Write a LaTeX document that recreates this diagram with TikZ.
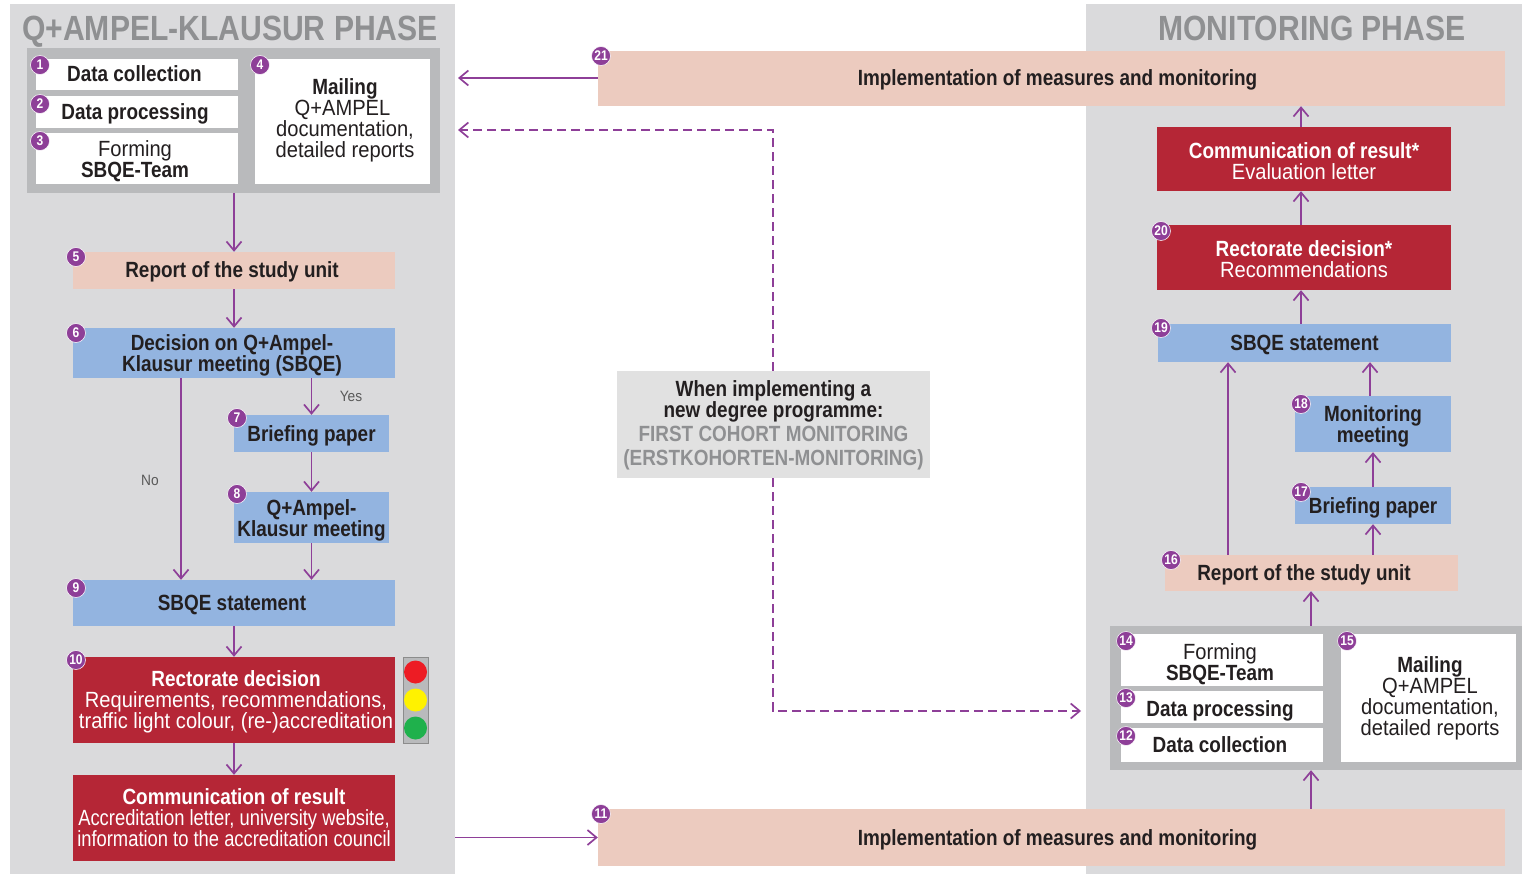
\documentclass[tikz,border=0pt]{standalone}
\usepackage{fontspec}
\setmainfont{Liberation Sans}[UprightFeatures={FakeStretch=0.915},BoldFeatures={FakeStretch=0.86}]
\newfontfamily\tightface[FakeStretch=0.835]{Liberation Sans}
\usetikzlibrary{arrows.meta}

\definecolor{panelgray}{HTML}{DADADC}
\definecolor{groupgray}{HTML}{B9BABC}
\definecolor{centergray}{HTML}{E1E1E1}
\definecolor{titlegray}{HTML}{8F9092}
\definecolor{peach}{HTML}{ECCBBF}
\definecolor{sky}{HTML}{93B4E0}
\definecolor{wine}{HTML}{B52636}
\definecolor{violet}{HTML}{8E3F98}
\definecolor{inkdark}{HTML}{231F20}
\definecolor{lampred}{HTML}{ED1C24}
\definecolor{lampyellow}{HTML}{FFF200}
\definecolor{lampgreen}{HTML}{1FB14C}

\tikzset{
  card/.style={inner sep=0pt,align=center,text=inkdark,font=\fontsize{22}{21}\selectfont},
  oneline/.style={text height=16pt,text depth=1pt},
  baseat/.style={text height=#1,text depth=0pt},
  whitecard/.style={card,fill=white},
  peachcard/.style={card,fill=peach},
  skycard/.style={card,fill=sky},
  winecard/.style={card,fill=wine,text=white},
  badge/.style={circle,fill=violet,draw=white,line width=0.5pt,inner sep=0pt,minimum size=19pt,text=white,font=\fontsize{14}{14}\selectfont\bfseries},
  flow/.style={draw=violet,line width=1.7pt,-{Straight Barb[length=9pt,width=15pt,line width=1.7pt]}},
  dashflow/.style={flow,dash pattern=on 9pt off 5pt},
  phasetitle/.style={text=titlegray,inner sep=0pt,text height=25pt,text depth=0pt,font=\fontsize{35}{35}\selectfont\bfseries},
  smalltag/.style={text=black!65,inner sep=0pt,font=\fontsize{15}{15}\selectfont}
}

\begin{document}
\begin{tikzpicture}[x=1pt,y=-1pt]
\useasboundingbox (0,0) rectangle (1522,874);

% Panels
\node[fill=panelgray,inner sep=0pt,minimum width=445pt,minimum height=870pt] (panelL) at (232.5,439) {};
\node[fill=panelgray,inner sep=0pt,minimum width=436pt,minimum height=870pt] (panelR) at (1304,439) {};
\node[phasetitle] (titleL) at (230,28) {Q+AMPEL-KLAUSUR PHASE};
\node[phasetitle] (titleR) at (1312,28) {MONITORING PHASE};

% Left group
\node[fill=groupgray,inner sep=0pt,minimum width=413pt,minimum height=145pt] (groupL) at (233.5,120.5) {};
\node[whitecard,oneline,minimum width=202pt,minimum height=31pt] (collectL) at (137,74.5) {\textbf{Data collection}\hspace*{5pt}};
\node[whitecard,oneline,minimum width=202pt,minimum height=32pt] (processL) at (137,112) {\textbf{Data processing}\hspace*{4pt}};
\node[whitecard,baseat=39pt,minimum width=202pt,minimum height=51pt] (formL) at (137,158.5) {Forming\hspace*{4pt}\\\textbf{SBQE-Team}\hspace*{4pt}};
\node[whitecard,baseat=73pt,minimum width=175pt,minimum height=125pt] (mailL) at (342.5,121.5) {\hspace*{5pt}\textbf{Mailing}\\Q+AMPEL\\\hspace*{5pt}documentation,\\\hspace*{5pt}detailed reports};

% Left column
\node[peachcard,oneline,minimum width=322pt,minimum height=37pt] (reportL) at (234,270.5) {\textbf{Report of the study unit}\hspace*{4pt}};
\node[skycard,baseat=36pt,minimum width=322pt,minimum height=50pt] (decision) at (234,353) {\textbf{Decision on Q+Ampel-}\hspace*{4pt}\\\textbf{Klausur meeting (SBQE)}\hspace*{4pt}};
\node[skycard,oneline,minimum width=155pt,minimum height=37pt] (briefingL) at (311.5,433.5) {\textbf{Briefing paper}};
\node[skycard,baseat=37pt,minimum width=155pt,minimum height=51pt] (meetingL) at (311.5,517.5) {\textbf{Q+Ampel-}\\\textbf{Klausur meeting}};
\node[skycard,oneline,minimum width=322pt,minimum height=46pt] (statementL) at (234,603) {\textbf{SBQE statement}\hspace*{4pt}};
\node[winecard,baseat=56pt,minimum width=322pt,minimum height=86pt] (rectorL) at (234,700) {\hspace*{4pt}\textbf{Rectorate decision}\\\hspace*{4pt}Requirements, recommendations,\\\hspace*{4pt}traffic light colour, (re-)accreditation};
\node[winecard,baseat=56pt,minimum width=322pt,minimum height=86pt] (commL) at (234,818) {\textbf{Communication of result}\\{\tightface Accreditation letter, university website,}\\{\tightface information to the accreditation council}};
\node[smalltag] (yestag) at (351,396) {Yes};
\node[smalltag] (notag) at (150,480) {No};

% Traffic light
\node[fill=groupgray,draw=black!45,line width=0.5pt,inner sep=0pt,minimum width=25pt,minimum height=86pt] (lights) at (415.5,700) {};
\fill[lampred] (415.5,672) circle(11.5pt);
\fill[lampyellow] (415.5,700) circle(11.5pt);
\fill[lampgreen] (415.5,728) circle(11.5pt);

% Middle
\node[peachcard,oneline,minimum width=907pt,minimum height=55pt] (implTop) at (1051.5,78.5) {\hspace*{12pt}\textbf{Implementation of measures and monitoring}};
\node[peachcard,oneline,minimum width=907pt,minimum height=57pt] (implBottom) at (1051.5,837.5) {\hspace*{12pt}\textbf{Implementation of measures and monitoring}};
\node[card,fill=centergray,baseat=81pt,minimum width=313pt,minimum height=107pt] (firstcohort) at (773.5,424.5) {\textbf{When implementing a}\\\textbf{new degree programme:}\\[3pt]\textcolor{titlegray}{\textbf{FIRST COHORT MONITORING}}\\[3pt]\textcolor{titlegray}{\textbf{(ERSTKOHORTEN-MONITORING)}}};

% Right column
\node[winecard,baseat=42pt,minimum width=294pt,minimum height=64pt] (commR) at (1304,159) {\textbf{Communication of result*}\\Evaluation letter};
\node[winecard,baseat=41pt,minimum width=294pt,minimum height=65pt] (rectorR) at (1304,257.5) {\textbf{Rectorate decision*}\\Recommendations};
\node[skycard,oneline,minimum width=293pt,minimum height=38pt] (statementR) at (1304.5,343) {\textbf{SBQE statement}};
\node[skycard,baseat=36pt,minimum width=156pt,minimum height=56pt] (meetingR) at (1373,424) {\textbf{Monitoring}\\\textbf{meeting}};
\node[skycard,oneline,minimum width=156pt,minimum height=37pt] (briefingR) at (1373,505.5) {\textbf{Briefing paper}};
\node[peachcard,oneline,minimum width=293pt,minimum height=36pt] (reportR) at (1311.5,573) {\textbf{Report of the study unit}\hspace*{15pt}};

% Right group
\node[fill=groupgray,inner sep=0pt,minimum width=412pt,minimum height=144pt] (groupR) at (1316,698) {};
\node[whitecard,baseat=40pt,minimum width=202pt,minimum height=52pt] (formR) at (1222,660) {Forming\hspace*{4pt}\\\textbf{SBQE-Team}\hspace*{4pt}};
\node[whitecard,oneline,text height=20pt,minimum width=202pt,minimum height=32pt] (processR) at (1222,707) {\textbf{Data processing}\hspace*{4pt}};
\node[whitecard,oneline,minimum width=202pt,minimum height=34pt] (collectR) at (1222,745) {\textbf{Data collection}\hspace*{4pt}};
\node[whitecard,baseat=74pt,minimum width=175pt,minimum height=128pt] (mailR) at (1428.5,698) {\hspace*{3pt}\textbf{Mailing}\\\hspace*{3pt}Q+AMPEL\\\hspace*{3pt}documentation,\\\hspace*{3pt}detailed reports};

% Free line positions
\coordinate (backL) at (458,78);
\coordinate (backLdash) at (458,130);
\coordinate (bendup) at (773,130);
\coordinate (benddown) at (773,711);
\coordinate (dashend) at (1081,711);
\coordinate (nolane) at (181,0);
\coordinate (sidelane) at (1228,0);
\coordinate (uplane) at (1301,0);
\coordinate (meetlane) at (1370,0);
\coordinate (reachR) at (1311,0);

% Left arrows
\draw[flow] (groupL.south -| reportL.north) -- (reportL.north);
\draw[flow] (reportL.south) -- (decision.north);
\draw[flow] (decision.south -| briefingL.north) -- (briefingL.north);
\draw[flow] (decision.south -| nolane) -- (statementL.north -| nolane);
\draw[flow] (briefingL.south) -- (meetingL.north);
\draw[flow] (meetingL.south) -- (statementL.north -| meetingL.south);
\draw[flow] (statementL.south) -- (rectorL.north);
\draw[flow] (rectorL.south) -- (commL.north);

% Middle arrows
\draw[flow] (panelL.east |- implBottom.west) -- (implBottom.west);
\draw[flow] (implTop.west |- backL) -- (backL);
\draw[dashflow] (firstcohort.north -| bendup) -- (bendup) -- (backLdash);
\draw[dashflow] (firstcohort.south -| benddown) -- (benddown) -- (dashend);

% Right arrows
\draw[flow] (implBottom.north -| reachR) -- (groupR.south -| reachR);
\draw[flow] (groupR.north -| reachR) -- (reportR.south -| reachR);
\draw[flow] (reportR.north -| briefingR.south) -- (briefingR.south);
\draw[flow] (briefingR.north) -- (meetingR.south);
\draw[flow] (meetingR.north -| meetlane) -- (statementR.south -| meetlane);
\draw[flow] (reportR.north -| sidelane) -- (statementR.south -| sidelane);
\draw[flow] (statementR.north -| uplane) -- (rectorR.south -| uplane);
\draw[flow] (rectorR.north -| uplane) -- (commR.south -| uplane);
\draw[flow] (commR.north -| uplane) -- (implTop.south -| uplane);

% Numbers
\node[badge] (num1) at (40,65) {1};
\node[badge] (num2) at (40,104) {2};
\node[badge] (num3) at (40,141) {3};
\node[badge] (num4) at (260,65) {4};
\node[badge] (num5) at (76,257) {5};
\node[badge] (num6) at (76,333) {6};
\node[badge] (num7) at (237,418) {7};
\node[badge] (num8) at (237,494) {8};
\node[badge] (num9) at (76,588) {9};
\node[badge] (num10) at (76,660) {10};
\node[badge] (num11) at (601,814) {11};
\node[badge] (num12) at (1126,736) {12};
\node[badge] (num13) at (1126,698) {13};
\node[badge] (num14) at (1126,641) {14};
\node[badge] (num15) at (1347,641) {15};
\node[badge] (num16) at (1171,560) {16};
\node[badge] (num17) at (1301,492) {17};
\node[badge] (num18) at (1301,404) {18};
\node[badge] (num19) at (1161,328) {19};
\node[badge] (num20) at (1161,231) {20};
\node[badge] (num21) at (601,56) {21};

\end{tikzpicture}
\end{document}
